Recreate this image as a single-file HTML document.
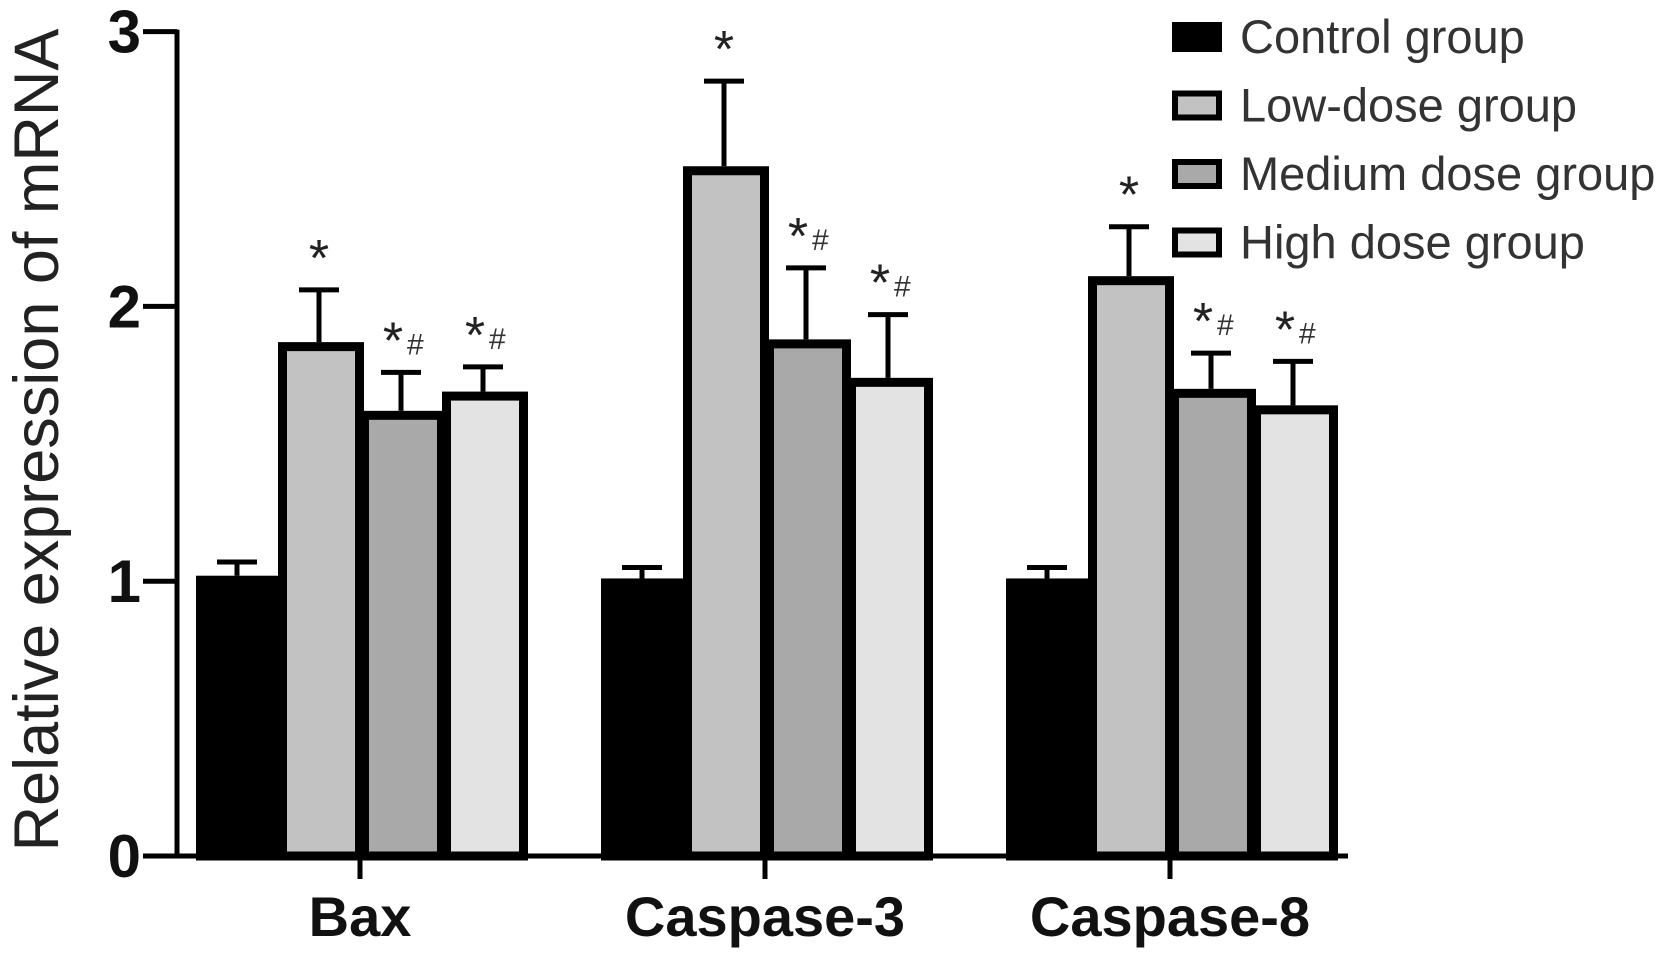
<!DOCTYPE html>
<html><head><meta charset="utf-8"><style>
html,body{margin:0;padding:0;background:#fff;}
svg{display:block;font-family:"Liberation Sans",Arial,sans-serif;}
</style></head><body>
<svg id="chart" width="1677" height="960" viewBox="0 0 1677 960">
<g id="axes"></g>
<g id="bars"></g>
<g id="legend"></g>
<text transform="translate(58,440) rotate(-90)" text-anchor="middle" font-size="63" fill="#222">Relative expression of mRNA</text>
</svg>
<script>
const categories = ["Bax", "Caspase-3", "Caspase-8"];
const seriesNames = ["Control group", "Low-dose group", "Medium dose group", "High dose group"];
const controlVals = [1.02, 1.01, 1.01];
const lowVals = [1.87, 2.51, 2.11];
const mediumVals = [1.62, 1.88, 1.70];
const highVals = [1.69, 1.74, 1.64];
const controlErr = [0.05, 0.04, 0.04];
const lowErr = [0.19, 0.31, 0.18];
const mediumErr = [0.14, 0.26, 0.13];
const highErr = [0.09, 0.23, 0.16];
const annotations = [["", "*", "*#", "*#"], ["", "*", "*#", "*#"], ["", "*", "*#", "*#"]];
const yTicks = [0, 1, 2, 3];

const NS = "http://www.w3.org/2000/svg";
const fills = ["#000000", "#c2c2c2", "#a9a9a9", "#e3e3e3"];
const y0 = 856, yPer = 274.8;
const yScale = v => y0 - v * yPer;
const groupStart = [196, 601, 1006];
const barW = 82;
const xScale = (ci, si) => groupStart[ci] + si * barW;
const allVals = [controlVals, lowVals, mediumVals, highVals];
const allErr = [controlErr, lowErr, mediumErr, highErr];

function mk(tag, attrs, parent) {
  const e = document.createElementNS(NS, tag);
  for (const k in attrs) e.setAttribute(k, attrs[k]);
  parent.appendChild(e);
  return e;
}
const axes = document.getElementById('axes');
const bars = document.getElementById('bars');
const legend = document.getElementById('legend');

categories.forEach((c, ci) => {
  for (let si = 0; si < 4; si++) {
    const v = allVals[si][ci], er = allErr[si][ci];
    const x = xScale(ci, si), yt = yScale(v);
    const cx = x + barW / 2;
    const eb = mk('line', {x1: cx, x2: cx, y1: yScale(v + er), y2: yt, stroke: '#000', 'stroke-width': 5}, bars);
    
    
    const cap = mk('line', {x1: cx - 20, x2: cx + 20, y1: yScale(v + er), y2: yScale(v + er), stroke: '#000', 'stroke-width': 5}, bars);
    
    
    const r = mk('rect', {x: x + 4.5, y: yt + 4.5, width: barW - 9 + 4, height: y0 - yt - 4.5, fill: fills[si], stroke: '#000', 'stroke-width': 9}, bars);
    
    
    const a = annotations[ci][si];
    if (a) {
      const t = mk('text', {x: cx - (a.length > 1 ? 8 : 0), y: yScale(v + er) - 14, 'text-anchor': 'middle', 'font-size': 52, fill: '#222'}, bars);
      t.textContent = '*';
      
      
      if (a.length > 1) {
        const h = mk('text', {x: cx + 6, y: yScale(v + er) - 18, 'font-size': 30, fill: '#333'}, bars);
        h.textContent = '#';
        
        
      }
    }
  }
});

const ya = mk('line', {x1: 177, x2: 177, y1: yScale(3) - 2, y2: y0 + 2, stroke: '#000', 'stroke-width': 5}, axes);


const xa = mk('line', {x1: 175, x2: 1348, y1: y0, y2: y0, stroke: '#000', 'stroke-width': 5}, axes);


yTicks.forEach(t => {
  const l = mk('line', {x1: 143, x2: 177, y1: yScale(t), y2: yScale(t), stroke: '#000', 'stroke-width': 5}, axes);
  
  
  const tx = mk('text', {x: 141, y: yScale(t) + 21, 'text-anchor': 'end', 'font-size': 60, 'font-weight': 'bold', fill: '#111'}, axes);
  tx.textContent = t;
  
  
});
categories.forEach((c, ci) => {
  const cx = groupStart[ci] + barW * 2;
  const l = mk('line', {x1: cx, x2: cx, y1: y0, y2: y0 + 23, stroke: '#000', 'stroke-width': 5}, axes);
  
  
  const tx = mk('text', {x: cx, y: 936, 'text-anchor': 'middle', 'font-size': 56, 'font-weight': 'bold', fill: '#111'}, axes);
  tx.textContent = c;
  
  
});

seriesNames.forEach((n, i) => {
  const cy = 37 + i * 68.5;
  const r = mk('rect', {x: 1175, y: cy - 12, width: 44, height: 24, fill: fills[i], stroke: '#000', 'stroke-width': 6}, legend);
  
  
  const t = mk('text', {x: 1240, y: cy + 16, 'font-size': 47, fill: '#333'}, legend);
  t.textContent = n;
  
  
});
</script>
</body></html>
